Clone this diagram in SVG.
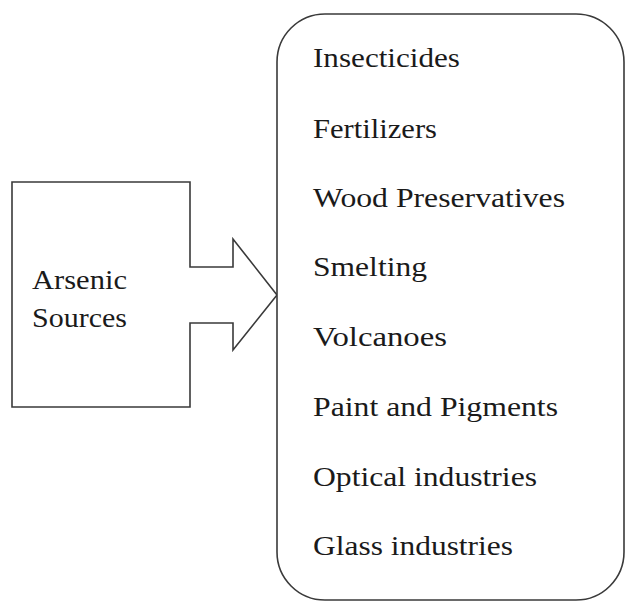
<svg xmlns="http://www.w3.org/2000/svg" width="625" height="601" viewBox="0 0 625 601">
<style>
.shape{fill:#fff;stroke:#3a3a3a;stroke-width:1.6;stroke-linejoin:miter}
.t{font-size:28px;fill:#1a1a1a}
</style>
<rect width="625" height="601" fill="#fff"/>
<g id="sources" font-family="Liberation Serif, serif">
<path class="shape" d="M12,182 H190 V267 H233 V239 L277,295 L233,350 V323 H190 V407 H12 Z"/>
<text class="t" x="32" y="289" textLength="95" lengthAdjust="spacingAndGlyphs">Arsenic</text>
<text class="t" x="32" y="327" textLength="95" lengthAdjust="spacingAndGlyphs">Sources</text>
</g>
<g id="list" font-family="Liberation Serif, serif">
<rect class="shape" x="277" y="14" width="347" height="586" rx="48" ry="48"/>
<text class="t" x="313" y="67" textLength="147" lengthAdjust="spacingAndGlyphs">Insecticides</text>
<text class="t" x="313" y="138" textLength="124" lengthAdjust="spacingAndGlyphs">Fertilizers</text>
<text class="t" x="313" y="207" textLength="252" lengthAdjust="spacingAndGlyphs">Wood Preservatives</text>
<text class="t" x="313" y="276" textLength="114" lengthAdjust="spacingAndGlyphs">Smelting</text>
<text class="t" x="313" y="346" textLength="134" lengthAdjust="spacingAndGlyphs">Volcanoes</text>
<text class="t" x="313" y="416" textLength="245" lengthAdjust="spacingAndGlyphs">Paint and Pigments</text>
<text class="t" x="313" y="486" textLength="224" lengthAdjust="spacingAndGlyphs">Optical industries</text>
<text class="t" x="313" y="555" textLength="200" lengthAdjust="spacingAndGlyphs">Glass industries</text>
</g>
<g id="connectors"></g>
</svg>
